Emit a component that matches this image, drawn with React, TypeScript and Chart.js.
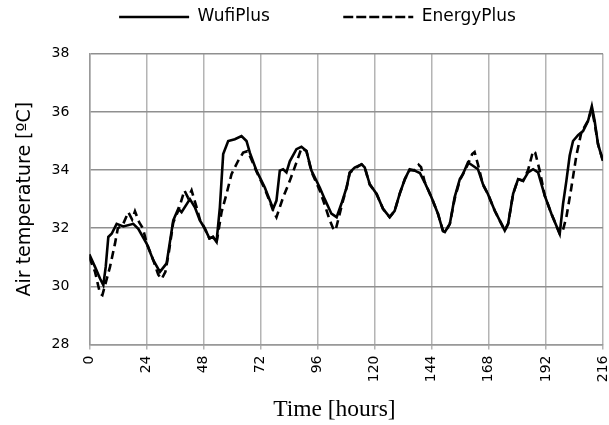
import React, { useEffect, useRef } from 'react';
import { Chart, registerables } from 'chart.js';

Chart.register(...registerables);

// [hour, air temperature °C]
const wufiPlus: [number, number][] = [
  [0, 31.1], [2.4, 30.67], [4.5, 30.27], [5.9, 30.04], [6.9, 30.67], [8.0, 31.7], [9.4, 31.81],
  [11.5, 32.15], [14.3, 32.06], [18.5, 32.15], [20.6, 31.98], [24.1, 31.47], [26.9, 30.9],
  [29.7, 30.5], [32.5, 30.79], [35.3, 32.27], [37.4, 32.67], [38.8, 32.55], [42.3, 33.0],
  [44.4, 32.72], [46.5, 32.27], [48.5, 32.0], [50.5, 31.65], [52, 31.7], [53.5, 31.53],
  [54.9, 32.72], [56.3, 34.55], [58.4, 35.0], [61.2, 35.06], [64, 35.17], [66.1, 35.0],
  [67.5, 34.6], [70.3, 33.98], [73.8, 33.4], [77.3, 32.67], [78.7, 32.95], [80.1, 33.98],
  [81.5, 34.03], [82.9, 33.92], [84.3, 34.3], [87.1, 34.72], [89.2, 34.8], [91.3, 34.66],
  [93.4, 33.98], [96.9, 33.4], [99, 33.0], [101.8, 32.5], [104, 32.38], [106, 32.84],
  [108.2, 33.4], [109.5, 33.92], [111.6, 34.09], [114.5, 34.2], [115.8, 34.09], [117.9, 33.52],
  [120.8, 33.18], [123.5, 32.67], [126.3, 32.38], [128.4, 32.6], [130.5, 33.18], [132.7, 33.69],
  [134.7, 34.03], [136.8, 33.98], [139, 33.9], [141, 33.58], [143.9, 33.06], [146.6, 32.5],
  [148.7, 31.9], [149.5, 31.87], [151.6, 32.15], [153.6, 33.06], [155.8, 33.69], [157.1, 33.86],
  [159.2, 34.26], [161.3, 34.15], [163.4, 34.03], [165.5, 33.52], [167.6, 33.18], [170.5, 32.6],
  [173.3, 32.15], [174.7, 31.92], [176.1, 32.15], [178.2, 33.18], [180.3, 33.69], [182.4, 33.63],
  [184.5, 33.92], [186.6, 34.03], [188.7, 33.92], [191.5, 33.12], [194.3, 32.5], [197.8, 31.81],
  [199.2, 32.84], [200.6, 33.63], [202, 34.5], [203.4, 35.0], [205.5, 35.2], [207.6, 35.34],
  [209.7, 35.69], [211.3, 36.2], [212.5, 35.69], [213.9, 34.89], [216, 34.32],
];

const energyPlus: [number, number][] = [
  [0, 31.0], [2.4, 30.5], [4.5, 29.76], [5.5, 29.7], [6.5, 30.0], [8.7, 30.67], [10.8, 31.47],
  [12, 32.0], [14, 32.1], [16.4, 32.55], [18, 32.3], [19.2, 32.58], [21, 32.2], [22.5, 32.0],
  [24.1, 31.5], [26.9, 30.9], [29, 30.4], [30.4, 30.25], [32, 30.5], [33.5, 31.2], [35.3, 32.2],
  [37.4, 32.6], [40, 33.3], [41.5, 33.05], [43, 33.3], [45, 32.75], [46.5, 32.3], [48.5, 32.0],
  [50.5, 31.65], [52, 31.7], [53.5, 31.5], [55.6, 32.55], [57.7, 33.18], [59.8, 33.86],
  [62.6, 34.32], [64.7, 34.6], [66.5, 34.65], [68, 34.4], [70.3, 33.95], [73.8, 33.35],
  [76, 32.9], [77.3, 32.6], [78.7, 32.38], [80, 32.7], [81.5, 33.06], [84.3, 33.63],
  [87.1, 34.26], [89.2, 34.75], [91.3, 34.66], [93.4, 33.95], [96.9, 33.3], [99, 32.8],
  [101, 32.3], [102.5, 32.0], [103.5, 31.92], [105, 32.4], [106.5, 32.9], [108.2, 33.4],
  [109.5, 33.9], [111.6, 34.05], [114.5, 34.2], [115.8, 34.1], [117.9, 33.5], [120.8, 33.18],
  [123.5, 32.67], [126.3, 32.38], [128.4, 32.6], [130.5, 33.18], [132.7, 33.69], [134.7, 34.0],
  [137, 34.0], [138.5, 34.18], [139.5, 34.1], [141, 33.6], [143.9, 33.06], [146.6, 32.5],
  [148.7, 31.92], [149.5, 31.85], [151.6, 32.15], [153.6, 33.0], [155.8, 33.65], [157.1, 33.86],
  [159.2, 34.2], [161, 34.55], [162, 34.62], [163.4, 34.2], [165.5, 33.5], [167.6, 33.18],
  [170.5, 32.6], [173.3, 32.15], [174.7, 31.92], [176.1, 32.15], [178.2, 33.18], [180.3, 33.69],
  [182.4, 33.63], [184.5, 34.0], [186.6, 34.66], [187.5, 34.6], [189.4, 33.98], [191.5, 33.12],
  [194.3, 32.5], [197.8, 31.81], [199.2, 31.95], [200.6, 32.38], [202.7, 33.4], [204.8, 34.5],
  [206.9, 35.3], [209.7, 35.7], [211.3, 36.1], [212.5, 35.6], [213.9, 34.9], [216, 34.3],
];

const seriesNames = ['WufiPlus', 'EnergyPlus'];
const xTickValues = [0, 24, 48, 72, 96, 120, 144, 168, 192, 216];
const yTickValues = [28, 30, 32, 34, 36, 38];
const xTitle = 'Time [hours]';
const yTitle = 'Air temperature [ºC]';

const PAD_LEFT = 32;

export default function App() {
  const ref = useRef<HTMLCanvasElement>(null);

  useEffect(() => {
    document.body.style.margin = '0';
    const canvas = ref.current;
    if (!canvas) return;
    const chart = new Chart(canvas, {
      type: 'line',
      data: {
        datasets: [
          {
            label: seriesNames[0] + '            ',
            data: wufiPlus.map(([x, y]) => ({ x, y })),
            borderColor: '#000000',
            backgroundColor: 'transparent',
            borderWidth: 2.6,
            pointRadius: 0,
            tension: 0,
            fill: false,
          },
          {
            label: seriesNames[1],
            data: energyPlus.map(([x, y]) => ({ x, y })),
            borderColor: '#000000',
            backgroundColor: 'transparent',
            borderWidth: 2.6,
            borderDash: [8, 5],
            pointRadius: 0,
            tension: 0,
            fill: false,
          },
        ],
      },
      options: {
        animation: false,
        responsive: false,
        layout: { padding: { left: PAD_LEFT, right: 6, top: 0, bottom: 0 }, autoPadding: false },
        plugins: {
          legend: {
            position: 'top',
            labels: {
              boxWidth: 70,
              boxHeight: 0,
              padding: 8.5,
              color: '#000000',
              font: { family: 'DejaVu Sans', size: 17 },
            },
          },
          subtitle: {
            display: true,
            text: '',
            weight: 500,
            padding: 0,
            font: { size: 18.3, lineHeight: 1 },
          },
          tooltip: { enabled: false },
        },
        scales: {
          x: {
            type: 'linear',
            min: 0,
            max: 216,
            afterBuildTicks: (s: any) => {
              s.ticks = xTickValues.map((v) => ({ value: v }));
            },
            afterFit: (s: any) => {
              s.height = 80.5;
              s.paddingLeft = 0;
              s.paddingRight = 0;
            },
            ticks: {
              autoSkip: false,
              minRotation: 90,
              maxRotation: 90,
              padding: 6,
              color: '#000000',
              font: { family: 'DejaVu Sans', size: 14 },
              callback: (v: any) => String(v),
            },
            grid: { color: '#b4b4b4', lineWidth: 1.5, drawTicks: true, tickLength: 5, tickColor: '#b4b4b4' },
            border: { color: '#999999', width: 1.5 },
            title: {
              display: true,
              text: xTitle + '    ',
              color: '#000000',
              font: { family: 'Liberation Serif', size: 23.5 },
              padding: { top: 0, bottom: 1 },
            },
          },
          y: {
            min: 28,
            max: 38,
            afterBuildTicks: (s: any) => {
              s.ticks = yTickValues.map((v) => ({ value: v }));
            },
            afterFit: (s: any) => {
              s.width = 89.3 - PAD_LEFT;
              s.paddingTop = 0;
              s.paddingBottom = 0;
            },
            ticks: {
              padding: 20,
              color: '#000000',
              font: { family: 'DejaVu Sans', size: 14 },
              callback: (v: any) => String(v),
            },
            grid: { color: '#8f8f8f', lineWidth: 1.5, drawTicks: false },
            border: { color: '#999999', width: 1.5 },
            title: {
              display: true,
              text: yTitle,
              color: '#000000',
              font: { family: 'DejaVu Sans', size: 19 },
              padding: { top: 25 - PAD_LEFT - 11.4, bottom: 0 },
            },
          },
        },
      },
    } as any);
    return () => chart.destroy();
  }, []);

  return <canvas ref={ref} width={609} height={425} style={{ display: 'block' }} />;
}
